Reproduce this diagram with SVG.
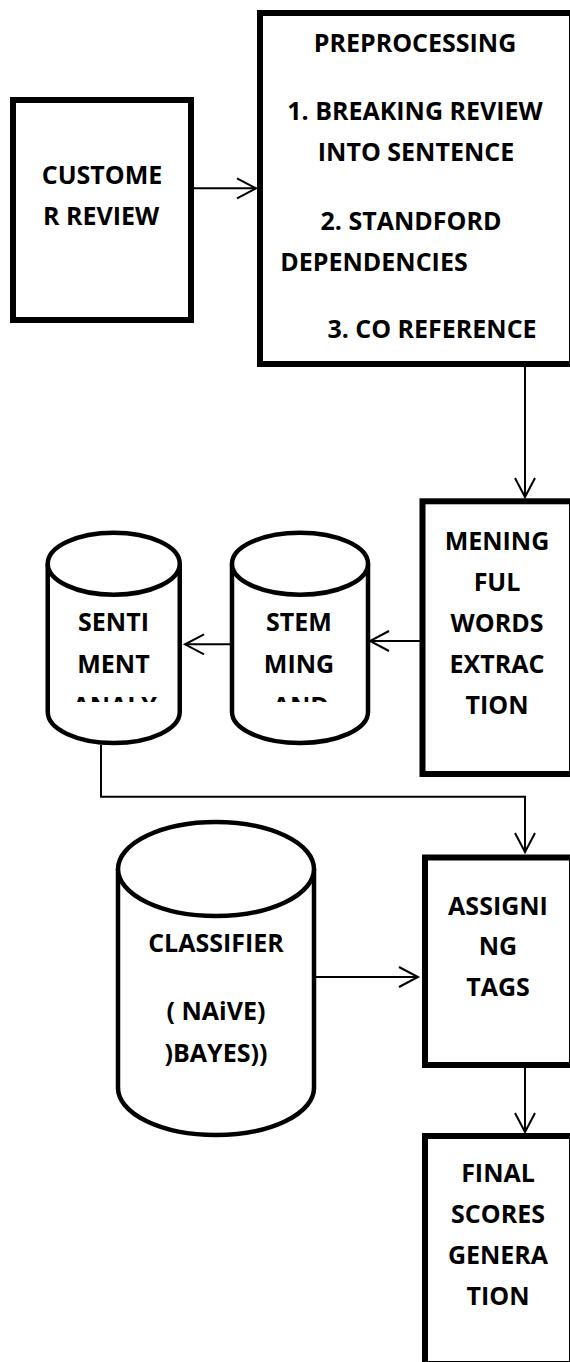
<svg xmlns="http://www.w3.org/2000/svg" width="570" height="1362" viewBox="0 0 570 1362">
<style>
.box{fill:#fff;stroke:#000;stroke-width:6}
.cyl{fill:#fff;stroke:#000;stroke-width:4.5}
.t{font-family:"Open Sans","Liberation Sans",sans-serif;font-weight:bold;font-size:25px;fill:#000;text-anchor:middle}
.c{fill:none;stroke:#000;stroke-width:2}
</style>
<defs>
<marker id="ah" markerUnits="userSpaceOnUse" markerWidth="24" markerHeight="24" refX="20" refY="11" orient="auto">
<path d="M1,1 L20,11 L1,21" fill="none" stroke="#000" stroke-width="2"/>
</marker>
<clipPath id="cl"><rect x="0" y="0" width="570" height="702"/></clipPath>
</defs>
<rect width="570" height="1362" fill="#fff"/>
<g id="connectors">
<line class="c" x1="194" y1="188.3" x2="256" y2="188.3" marker-end="url(#ah)"/>
<line class="c" x1="525" y1="367" x2="525" y2="497" marker-end="url(#ah)"/>
<line class="c" x1="420" y1="641" x2="370" y2="641" marker-end="url(#ah)"/>
<line class="c" x1="234.5" y1="644.3" x2="185" y2="644.3" marker-end="url(#ah)"/>
<polyline class="c" points="101,745 101,796.7 525,796.7 525,852" marker-end="url(#ah)"/>
<line class="c" x1="316" y1="977" x2="418" y2="977" marker-end="url(#ah)"/>
<line class="c" x1="525" y1="1068" x2="525" y2="1132" marker-end="url(#ah)"/>
</g>
<g id="customer-review">
<rect class="box" x="13" y="100" width="178" height="220"/>
<text class="t" x="102" y="183.5">CUSTOME</text>
<text class="t" x="101" y="225">R REVIEW</text>
</g>
<g id="preprocessing">
<rect class="box" x="260" y="13" width="312" height="351"/>
<text class="t" x="415" y="52">PREPROCESSING</text>
<text class="t" x="415" y="120">1. BREAKING REVIEW</text>
<text class="t" x="416" y="160.7">INTO SENTENCE</text>
<text class="t" x="411" y="230">2. STANDFORD</text>
<text class="t" x="374" y="270.7">DEPENDENCIES</text>
<text class="t" x="432" y="338.3">3. CO REFERENCE</text>
</g>
<g id="meaningful-words">
<rect class="box" x="422.5" y="501.3" width="149.5" height="272.7"/>
<text class="t" x="497" y="550">MENING</text>
<text class="t" x="497" y="591">FUL</text>
<text class="t" x="497" y="631.7">WORDS</text>
<text class="t" x="497" y="672.7">EXTRAC</text>
<text class="t" x="497" y="714.3">TION</text>
</g>
<g id="stemming">
<path class="cyl" d="M232,563.7 L232,712 A68,31 0 0 0 368,712 L368,563.7"/>
<ellipse class="cyl" cx="300" cy="563.7" rx="68" ry="31"/>
<text class="t" x="299" y="630.7">STEM</text>
<text class="t" x="299" y="672.7">MING</text>
<text class="t" x="300.8" y="714.5" clip-path="url(#cl)">AND</text>
</g>
<g id="sentiment">
<path class="cyl" d="M47.75,563.7 L47.75,712 A66,31 0 0 0 179.75,712 L179.75,563.7"/>
<ellipse class="cyl" cx="113.75" cy="563.7" rx="66" ry="31"/>
<text class="t" x="113.5" y="630.7">SENTI</text>
<text class="t" x="113.5" y="672.7">MENT</text>
<text class="t" x="114.7" y="714.5" clip-path="url(#cl)">ANALY</text>
</g>
<g id="classifier">
<path class="cyl" d="M118,869 L118,1088 A98,47 0 0 0 314,1088 L314,869"/>
<ellipse class="cyl" cx="216" cy="869" rx="98" ry="47"/>
<text class="t" x="216" y="952">CLASSIFIER</text>
<text class="t" x="216" y="1020">( NAiVE)</text>
<text class="t" x="216" y="1061.6">)BAYES))</text>
</g>
<g id="assigning-tags">
<rect class="box" x="425" y="857.5" width="147" height="207.5"/>
<text class="t" x="498" y="914.7">ASSIGNI</text>
<text class="t" x="498" y="955">NG</text>
<text class="t" x="498" y="996">TAGS</text>
</g>
<g id="final-scores">
<rect class="box" x="425" y="1136" width="147" height="228"/>
<text class="t" x="498" y="1181.7">FINAL</text>
<text class="t" x="498" y="1223">SCORES</text>
<text class="t" x="498" y="1264">GENERA</text>
<text class="t" x="498" y="1305">TION</text>
</g>
</svg>
